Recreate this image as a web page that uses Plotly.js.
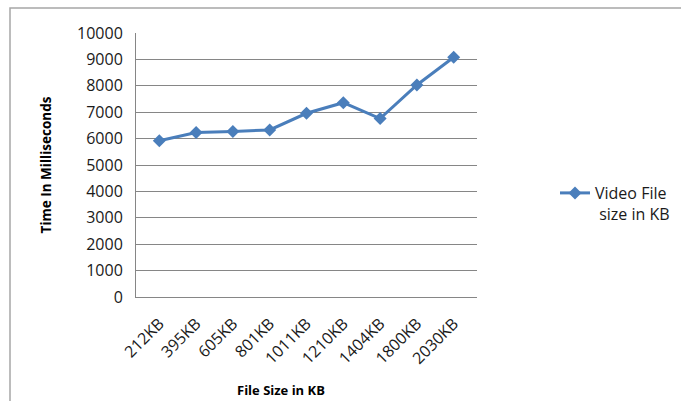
<!DOCTYPE html>
<html>
<head>
<meta charset="utf-8">
<script src="https://cdn.plot.ly/plotly-3.0.1.min.js"></script>
<style>
  html, body { margin: 0; padding: 0; background: #ffffff; }
  #chart { width: 681px; height: 401px; }
</style>
</head>
<body>
<div id="chart"></div>
<script>
// File sizes tested (category axis)
const fileSizes = ['212KB', '395KB', '605KB', '801KB', '1011KB', '1210KB', '1404KB', '1800KB', '2030KB'];
// Processing time in milliseconds for each file
const timeMs = [5920, 6230, 6270, 6330, 6960, 7360, 6760, 8030, 9080];
// Y axis ticks
const yTicks = [0, 1000, 2000, 3000, 4000, 5000, 6000, 7000, 8000, 9000, 10000];

const seriesName = 'Video File<br> size in KB';
const xTitle = 'File Size in KB';
const yTitle = 'Time In Milliseconds';

const W = 681, H = 401;
const M = { l: 136, r: 204, t: 33, b: 104, autoexpand: false };
const pw = W - M.l - M.r, ph = H - M.t - M.b;
// pixel -> paper helpers for decoration placement
const px = x => (x - M.l) / pw;
const py = y => (H - M.b - y) / ph;

const trace = {
  x: fileSizes,
  y: timeMs,
  type: 'scatter',
  mode: 'lines+markers',
  name: seriesName,
  line: { color: '#4a7ebb', width: 3 },
  marker: { symbol: 'diamond', size: 10, color: '#4a7ebb' }
};

const layout = {
  width: W,
  height: H,
  margin: M,
  paper_bgcolor: '#ffffff',
  plot_bgcolor: '#ffffff',
  font: { family: 'Open Sans, sans-serif', size: 15, color: '#1a1a1a' },
  showlegend: true,
  legend: {
    x: px(555), y: py(176), xanchor: 'left', yanchor: 'top',
    valign: 'top',
    font: { family: 'Open Sans, sans-serif', size: 16, color: '#1a1a1a' },
    bgcolor: 'rgba(0,0,0,0)'
  },
  xaxis: {
    type: 'category',
    tickangle: -45,
    showgrid: false,
    showline: true,
    linecolor: '#868686',
    linewidth: 1,
    ticks: '',
    zeroline: false,
    ticklabelstandoff: 10,
    tickfont: { size: 16 }
  },
  yaxis: {
    range: [0, 10000],
    tickvals: yTicks,
    ticktext: yTicks.map(String),
    showgrid: true,
    gridcolor: '#868686',
    gridwidth: 1,
    showline: true,
    linecolor: '#868686',
    linewidth: 1,
    ticks: '',
    zeroline: false,
    ticklabelstandoff: 9,
    tickfont: { size: 16 },
    title: {
      text: yTitle,
      standoff: 22,
      font: { family: 'Open Sans, sans-serif', size: 13.5, color: '#000000', weight: 'bold' }
    }
  },
  annotations: [{
    text: '<b>' + xTitle + '</b>',
    xref: 'paper', yref: 'paper',
    x: px(281), y: py(390),
    xanchor: 'center', yanchor: 'middle',
    showarrow: false,
    font: { family: 'Open Sans, sans-serif', size: 13, color: '#000000' }
  }],
  shapes: [{
    type: 'rect',
    xref: 'paper', yref: 'paper',
    x0: px(10), x1: px(690), y0: py(410), y1: py(8),
    line: { color: '#a6a6a6', width: 1.5 },
    layer: 'below'
  }]
};

Plotly.newPlot('chart', [trace], layout, { displayModeBar: false, staticPlot: true });
</script>
</body>
</html>
